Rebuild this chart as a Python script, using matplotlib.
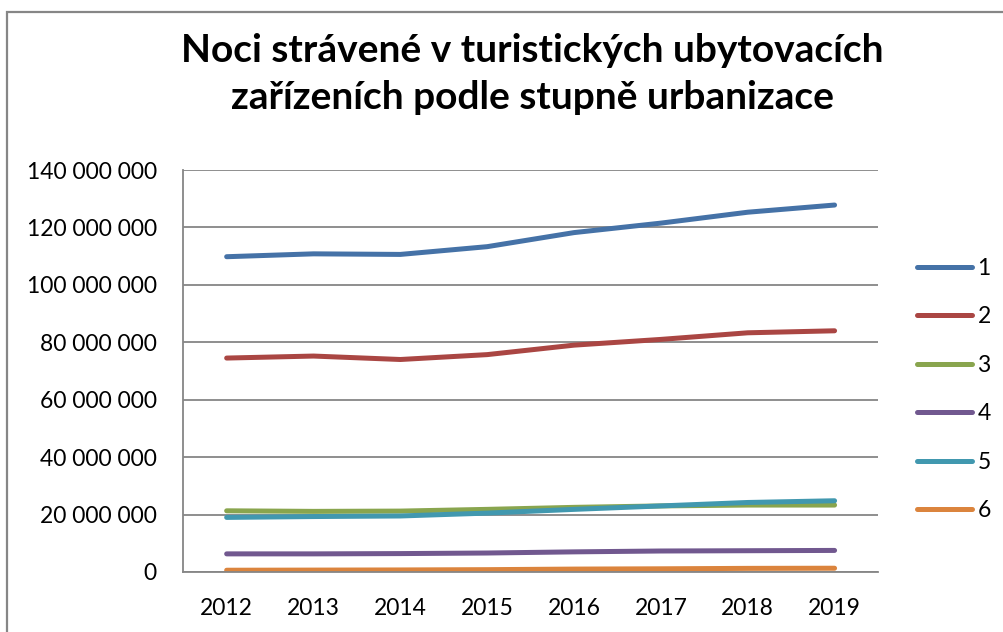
import numpy as np
import matplotlib.pyplot as plt
from matplotlib.patches import Rectangle

# Dados (noci, odhad z grafu)
roky = ['2012', '2013', '2014', '2015', '2016', '2017', '2018', '2019']
s1 = [109.8, 110.8, 110.6, 113.3, 118.2, 121.5, 125.3, 127.8]
s2 = [74.5, 75.2, 74.0, 75.7, 79.0, 81.0, 83.3, 84.0]
s3 = [21.3, 21.1, 21.2, 21.8, 22.5, 23.0, 23.3, 23.3]
s4 = [6.3, 6.3, 6.4, 6.6, 7.0, 7.3, 7.4, 7.5]
s5 = [19.0, 19.3, 19.5, 20.5, 21.8, 23.0, 24.2, 24.8]
s6 = [0.6, 0.65, 0.7, 0.8, 1.0, 1.1, 1.25, 1.3]
nazvy = ['1', '2', '3', '4', '5', '6']
barvy = ['#4572A7', '#AA4643', '#89A54E', '#71588F', '#4198AF', '#DB843D']

plt.rcParams['font.family'] = ['Lato', 'DejaVu Sans']

fig = plt.figure(figsize=(10.04, 6.32), dpi=100)
ax = fig.add_axes([0.1825, 0.095, 0.692, 0.636])

# ramecek grafu
fig.patches.append(Rectangle((7.5 / 1004, -0.1), 1.2, 1 - 12 / 632 + 0.1,
                             transform=fig.transFigure, fill=False,
                             edgecolor='#868686', linewidth=1.6))

x = np.arange(len(roky))
for serie, nazev, barva in zip([s1, s2, s3, s4, s5, s6], nazvy, barvy):
    ax.plot(x, np.array(serie) * 1e6, color=barva, linewidth=3.6,
            solid_capstyle='round', label=nazev)

ax.set_xlim(-0.5, 7.5)
ax.set_ylim(0, 140e6)
ax.set_xticks(x)
ax.set_xticklabels(roky)
ticks = np.arange(0, 140e6 + 1, 20e6)
ax.set_yticks(ticks)
ax.set_yticklabels(['{:,}'.format(int(t)).replace(',', ' ') for t in ticks])
ax.tick_params(length=0, labelsize=16.5)
ax.tick_params(axis='x', pad=19)
ax.tick_params(axis='y', pad=19)
ax.grid(axis='y', color='#868686', linewidth=1.3)
ax.set_axisbelow(True)
for s in ['top', 'right']:
    ax.spines[s].set_visible(False)
for s in ['left', 'bottom']:
    ax.spines[s].set_color('#868686')
    ax.spines[s].set_linewidth(1.3)

fig.text(0.53, 0.883, 'Noci strávené v turistických ubytovacích\nzařízeních podle stupně urbanizace',
         ha='center', va='center', fontsize=28, fontweight='bold', linespacing=1.42)

fig.legend(loc='center left', bbox_to_anchor=(0.913, 0.384), frameon=False,
           fontsize=16.5, handlelength=2.4, handletextpad=0.25, labelspacing=1.2,
           borderpad=0, borderaxespad=0)

fig.savefig('out.png', dpi=100)
